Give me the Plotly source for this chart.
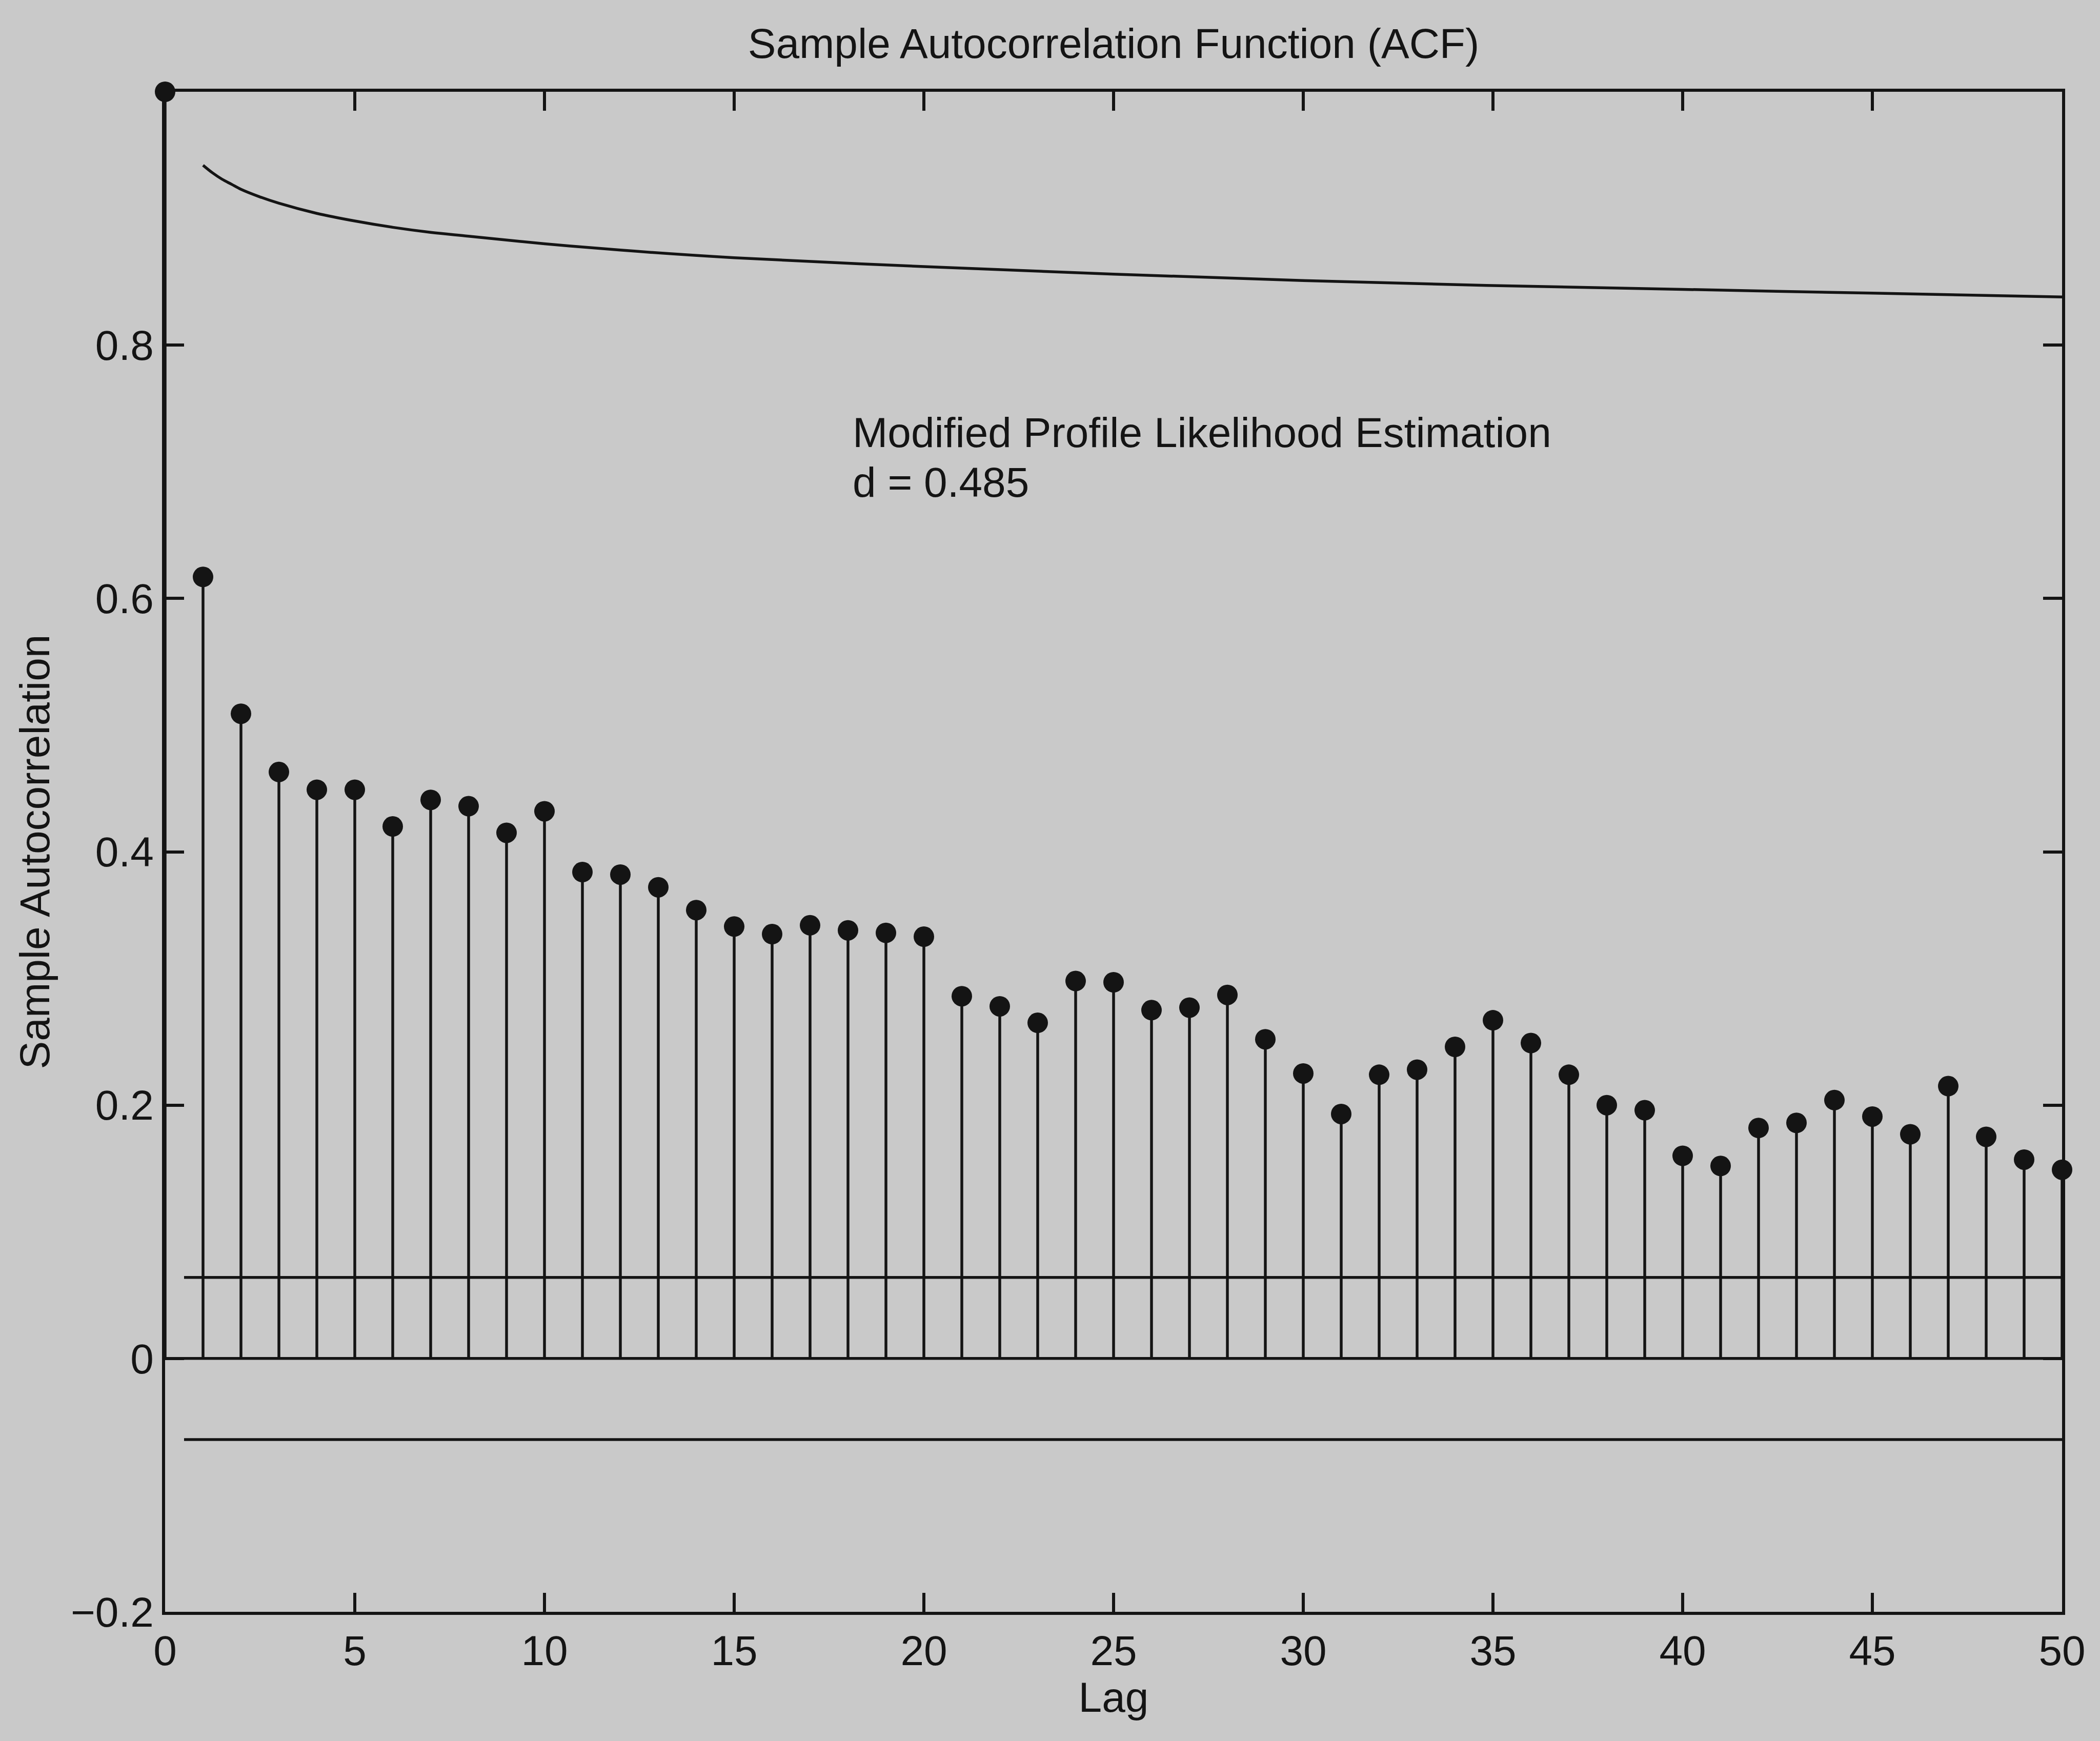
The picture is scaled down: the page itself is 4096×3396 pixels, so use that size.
import plotly.graph_objects as go

# ---- data ----
lags = list(range(1, 51))
acf_values = [0.617, 0.509, 0.463, 0.449, 0.449, 0.420, 0.441, 0.436, 0.415, 0.432,
              0.384, 0.382, 0.372, 0.354, 0.341, 0.335, 0.342, 0.338, 0.336, 0.333,
              0.286, 0.278, 0.265, 0.298, 0.297, 0.275, 0.277, 0.287, 0.252, 0.225,
              0.193, 0.224, 0.228, 0.246, 0.267, 0.249, 0.224, 0.200, 0.196, 0.160,
              0.152, 0.182, 0.186, 0.204, 0.191, 0.177, 0.215, 0.175, 0.157, 0.149]
lag0_value = 1.0

curve_lags = [1, 1.25, 1.5, 1.75, 2, 2.5, 3, 4, 5, 6, 7, 8, 10, 12, 15, 20, 25, 30, 35, 40, 45, 50]
curve_values = [0.942, 0.936, 0.931, 0.927, 0.923, 0.917, 0.912, 0.904, 0.898, 0.893,
                0.889, 0.886, 0.880, 0.875, 0.869, 0.862, 0.856, 0.851, 0.847, 0.844,
                0.841, 0.838]

bound = 0.064
bound_start = 0.5
x_max = 50

title_text = "Sample Autocorrelation Function (ACF)"
xlabel = "Lag"
ylabel = "Sample Autocorrelation"
note_line1 = "Modified Profile Likelihood Estimation"
note_line2 = "d = 0.485"
x_ticks = [0, 5, 10, 15, 20, 25, 30, 35, 40, 45, 50]
y_ticks = [-0.2, 0, 0.2, 0.4, 0.6, 0.8]
y_ticktext = ["\u22120.2", "0", "0.2", "0.4", "0.6", "0.8"]

# ---- styling ----
BG = "#c9c9c9"
INK = "#141414"
FONT = "Liberation Sans, Arial, Helvetica, sans-serif"
FS = 82
LW = 5.5

all_lags = [0] + lags
all_vals = [lag0_value] + acf_values

stem_x, stem_y = [], []
for k, v in zip(all_lags, all_vals):
    stem_x += [k, k, None]
    stem_y += [0, v, None]

fig = go.Figure()

# theoretical curve
fig.add_trace(go.Scatter(x=curve_lags, y=curve_values, mode="lines",
                         line=dict(color=INK, width=LW, shape="spline"),
                         hoverinfo="skip", showlegend=False))
# zero line and bounds
fig.add_trace(go.Scatter(x=[0, x_max], y=[0, 0], mode="lines",
                         line=dict(color=INK, width=LW), showlegend=False))
fig.add_trace(go.Scatter(x=[bound_start, x_max], y=[bound, bound], mode="lines",
                         line=dict(color=INK, width=LW), showlegend=False))
fig.add_trace(go.Scatter(x=[bound_start, x_max], y=[-bound, -bound], mode="lines",
                         line=dict(color=INK, width=LW), showlegend=False))
# stems
fig.add_trace(go.Scatter(x=stem_x, y=stem_y, mode="lines",
                         line=dict(color=INK, width=LW), showlegend=False,
                         cliponaxis=False))
# dots
fig.add_trace(go.Scatter(x=all_lags, y=all_vals, mode="markers",
                         marker=dict(color=INK, size=40, line=dict(width=0)),
                         showlegend=False, cliponaxis=False))

# annotation text
fig.add_annotation(x=18.1, y=0.731, xref="x", yref="y", text=note_line1,
                   showarrow=False, xanchor="left", yanchor="middle",
                   font=dict(family=FONT, size=FS, color=INK))
fig.add_annotation(x=18.1, y=0.692, xref="x", yref="y", text=note_line2,
                   showarrow=False, xanchor="left", yanchor="middle",
                   font=dict(family=FONT, size=FS, color=INK))

axis_common = dict(showline=True, linecolor=INK, linewidth=LW, mirror="ticks",
                   ticks="inside", ticklen=37, tickwidth=LW, tickcolor=INK,
                   showgrid=False, zeroline=False,
                   tickfont=dict(family=FONT, size=FS, color=INK))

fig.update_layout(
    width=4096, height=3396, autosize=False,
    margin=dict(l=322, r=74, t=179, b=252),
    paper_bgcolor=BG, plot_bgcolor=BG,
    font=dict(family=FONT, size=FS, color=INK),
    title=dict(text=title_text, x=0.5, xref="paper", xanchor="center",
               y=1 - 84 / 3396, yref="container", yanchor="middle",
               font=dict(family=FONT, size=FS, color=INK)),
    xaxis=dict(range=[0, x_max], tickvals=x_ticks,
               title=dict(text=xlabel, standoff=16,
                          font=dict(family=FONT, size=FS, color=INK)),
               **axis_common),
    yaxis=dict(range=[-0.2, 1.0], tickvals=y_ticks, ticktext=y_ticktext,
               title=dict(text=ylabel, standoff=16,
                          font=dict(family=FONT, size=FS, color=INK)),
               **axis_common),
)

fig.write_html("out.html")
